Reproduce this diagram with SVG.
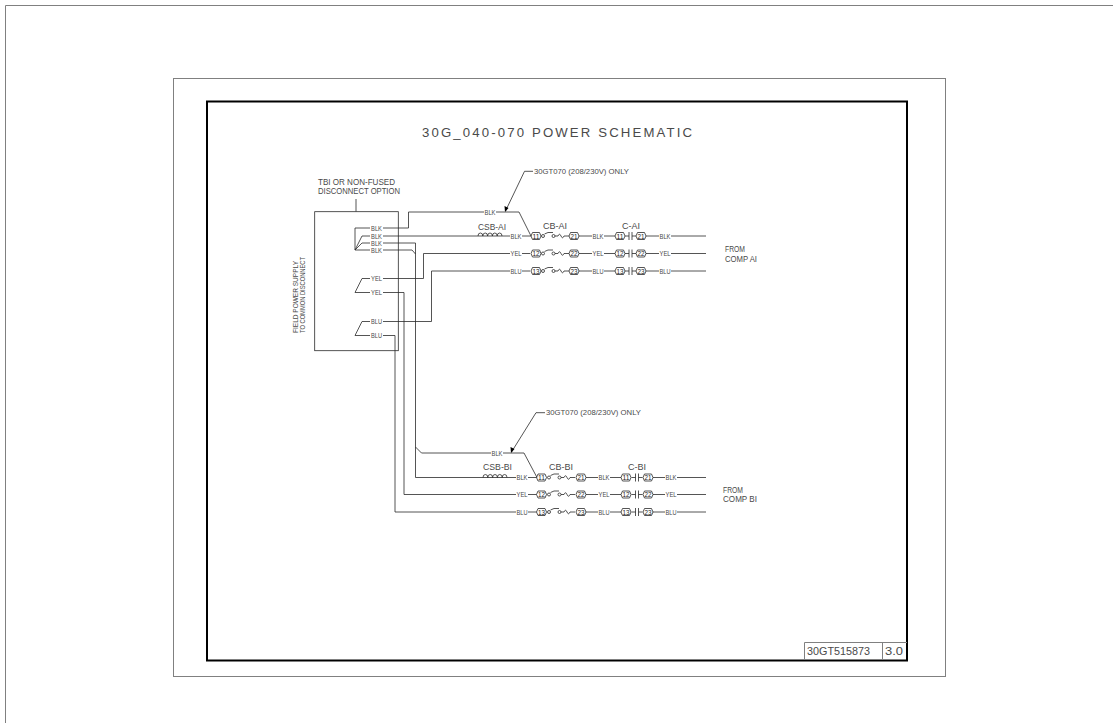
<svg xmlns="http://www.w3.org/2000/svg" width="1113" height="723" viewBox="0 0 1113 723">
<style>
text{font-family:"Liberation Sans",Arial,sans-serif;fill:#4a4a4a}
.w{fill:none;stroke:#2a2a2a;stroke-width:.8}
.f{fill:none;stroke:#808080;stroke-width:1}
.t{font-size:7px;text-anchor:middle}
.n{font-size:6.500px;text-anchor:middle;fill:#222}
.s{font-size:9.500px}
.m{font-size:7px}
</style>
<defs>
<path id="hex" class="w" d="M-5,0l1.500-3.500h7l1.500,3.500l-1.500,3.500h-7z"/>
<g id="cb"><circle cx="0" cy="0" r="1.500" class="w"/><path class="w" d="M1.500,-2 L5,-3.500 H10"/><circle cx="10.500" cy="0" r="1.500" class="w"/><path class="w" d="M12,0 H15 q1.500,-3.500 3,0 t3,0 H26"/></g>
<path id="con" class="w" d="M-5,0H-1M-1,-4V4M2,-4V4M2,0H6"/>
<path id="coil" class="w" d="M0,0a2.400,3 0 0 1 4.800,0a2.400,3 0 0 1 4.800,0a2.400,3 0 0 1 4.800,0a2.400,3 0 0 1 4.800,0a2.400,3 0 0 1 4.800,0"/>
</defs>
<rect width="1113" height="723" fill="#fff"/>
<g id="frame">
<path class="f" d="M1113,5.500H5.500V723"/>
<rect class="f" x="173.500" y="78.500" width="772" height="598"/>
<rect x="207" y="101.500" width="700" height="559" fill="none" stroke="#000" stroke-width="2"/>
<path class="f" d="M804.500,660V642.500H907M882.500,642.500V660"/>
<text x="807" y="655" textLength="63" lengthAdjust="spacingAndGlyphs" style="font-size:11px">30GT515873</text>
<text x="885" y="655" textLength="18" lengthAdjust="spacingAndGlyphs" style="font-size:11px">3.0</text>
<text x="422" y="137" textLength="270" style="font-size:13.200px">30G_040-070 POWER SCHEMATIC</text>
</g>
<g id="connectors">
<path class="w" d="M370,228H355V250H370M355,250L362,236H370M355,250L362,243H370"/>
<path class="w" d="M370,278.500H362L355,292.500H370M370,321.500H362L355,335.500H370"/>
<path class="w" d="M383,228H408.500V212H484M496,212H519L531,236"/>
<path class="w" d="M383,236H510M522,236H531"/>
<path class="w" d="M383,243H415.500V477.500H516M528,477.500H536.500"/>
<path class="w" d="M383,250H412L415.500,254"/>
<path class="w" d="M415.500,447L421.500,453H491M503,453H524L537,477.500"/>
<path class="w" d="M383,278.500H423.500V253.500H510M522,253.500H530"/>
<path class="w" d="M383,321.500H431.500V271H510M522,271H530"/>
<path class="w" d="M383,292.500H404V494.500H516M528,494.500H536.500"/>
<path class="w" d="M383,335.500H395V512H516M528,512H536.500"/>
<path class="w" d="M533,171.300H524.500L505.500,211"/>
<path d="M505,212L504.500,206L508.500,208Z" fill="#000"/>
<path class="w" d="M545,412.700H536L511.500,452"/>
<path d="M511,453L510.500,447L514.500,449Z" fill="#000"/>
<path class="w" d="M356,211.500V199"/>
</g>
<g id="box-tb1">
<rect class="w" x="314.700" y="211.700" width="83.600" height="139"/>
<g class="t">
<text x="376.500" y="230.700" textLength="11" lengthAdjust="spacingAndGlyphs">BLK</text><text x="376.500" y="238.500" textLength="11" lengthAdjust="spacingAndGlyphs">BLK</text><text x="376.500" y="245.500" textLength="11" lengthAdjust="spacingAndGlyphs">BLK</text><text x="376.500" y="252.700" textLength="11" lengthAdjust="spacingAndGlyphs">BLK</text>
<text x="376.500" y="281" textLength="11" lengthAdjust="spacingAndGlyphs">YEL</text><text x="376.500" y="295.200" textLength="11" lengthAdjust="spacingAndGlyphs">YEL</text><text x="376.500" y="324.200" textLength="11" lengthAdjust="spacingAndGlyphs">BLU</text><text x="376.500" y="338.200" textLength="11" lengthAdjust="spacingAndGlyphs">BLU</text>
</g>
<text x="318" y="185" class="s" textLength="77" lengthAdjust="spacingAndGlyphs">TBI OR NON-FUSED</text>
<text x="318" y="194" class="s" textLength="82" lengthAdjust="spacingAndGlyphs">DISCONNECT OPTION</text>
<text transform="translate(298,333) rotate(-90)" textLength="72" lengthAdjust="spacingAndGlyphs" style="font-size:8px">FIELD POWER SUPPLY</text>
<text transform="translate(305,333) rotate(-90)" textLength="76" lengthAdjust="spacingAndGlyphs" style="font-size:8px">TO COMMON DISCONNECT</text>
</g>
<g id="note-a"><text x="534" y="174" class="m" textLength="95" lengthAdjust="spacingAndGlyphs">30GT070 (208/230V) ONLY</text></g>
<g id="note-b"><text x="546" y="415" class="m" textLength="95" lengthAdjust="spacingAndGlyphs">30GT070 (208/230V) ONLY</text></g>
<g id="wires-labels" class="t">
<text x="490" y="214.500" textLength="11" lengthAdjust="spacingAndGlyphs">BLK</text><text x="516" y="238.500" textLength="11" lengthAdjust="spacingAndGlyphs">BLK</text><text x="516" y="256" textLength="11" lengthAdjust="spacingAndGlyphs">YEL</text><text x="516" y="273.500" textLength="11" lengthAdjust="spacingAndGlyphs">BLU</text>
<text x="497" y="455.500" textLength="11" lengthAdjust="spacingAndGlyphs">BLK</text><text x="522" y="480" textLength="11" lengthAdjust="spacingAndGlyphs">BLK</text><text x="522" y="497" textLength="11" lengthAdjust="spacingAndGlyphs">YEL</text><text x="522" y="514.500" textLength="11" lengthAdjust="spacingAndGlyphs">BLU</text>
</g>
<g id="csb-a1"><use href="#coil" x="478" y="236"/><text x="478" y="229.500" class="s" textLength="28" lengthAdjust="spacingAndGlyphs">CSB-AI</text></g>
<g id="csb-b1"><use href="#coil" x="483" y="477.500"/><text x="483" y="470" class="s" textLength="29" lengthAdjust="spacingAndGlyphs">CSB-BI</text></g>
<g id="cb-a1">
<text x="543" y="228.500" class="s" textLength="24" lengthAdjust="spacingAndGlyphs">CB-AI</text>
<use href="#hex" x="536" y="236"/><text x="536" y="238.500" class="n" textLength="7" lengthAdjust="spacingAndGlyphs">11</text><use href="#cb" x="543" y="236"/><use href="#hex" x="574" y="236"/><text x="574" y="238.500" class="n" textLength="7" lengthAdjust="spacingAndGlyphs">21</text>
<use href="#hex" x="536" y="253.500"/><text x="536" y="256" class="n" textLength="7" lengthAdjust="spacingAndGlyphs">12</text><use href="#cb" x="543" y="253.500"/><use href="#hex" x="574" y="253.500"/><text x="574" y="256" class="n" textLength="7" lengthAdjust="spacingAndGlyphs">22</text>
<use href="#hex" x="536" y="271"/><text x="536" y="273.500" class="n" textLength="7" lengthAdjust="spacingAndGlyphs">13</text><use href="#cb" x="543" y="271"/><use href="#hex" x="574" y="271"/><text x="574" y="273.500" class="n" textLength="7" lengthAdjust="spacingAndGlyphs">23</text>
</g>
<g id="c-a1">
<text x="622" y="228.500" class="s" textLength="18" lengthAdjust="spacingAndGlyphs">C-AI</text>
<path class="w" d="M579,236H592M604,236H615M646,236H659M671,236H706M579,253.500H592M604,253.500H615M646,253.500H659M671,253.500H706M579,271H592M604,271H615M646,271H659M671,271H706"/>
<g class="t"><text x="598" y="238.500" textLength="11" lengthAdjust="spacingAndGlyphs">BLK</text><text x="598" y="256" textLength="11" lengthAdjust="spacingAndGlyphs">YEL</text><text x="598" y="273.500" textLength="11" lengthAdjust="spacingAndGlyphs">BLU</text><text x="665" y="238.500" textLength="11" lengthAdjust="spacingAndGlyphs">BLK</text><text x="665" y="256" textLength="11" lengthAdjust="spacingAndGlyphs">YEL</text><text x="665" y="273.500" textLength="11" lengthAdjust="spacingAndGlyphs">BLU</text></g>
<use href="#hex" x="620" y="236"/><text x="620" y="238.500" class="n" textLength="7" lengthAdjust="spacingAndGlyphs">11</text><use href="#con" x="630" y="236"/><use href="#hex" x="641" y="236"/><text x="641" y="238.500" class="n" textLength="7" lengthAdjust="spacingAndGlyphs">21</text>
<use href="#hex" x="620" y="253.500"/><text x="620" y="256" class="n" textLength="7" lengthAdjust="spacingAndGlyphs">12</text><use href="#con" x="630" y="253.500"/><use href="#hex" x="641" y="253.500"/><text x="641" y="256" class="n" textLength="7" lengthAdjust="spacingAndGlyphs">22</text>
<use href="#hex" x="620" y="271"/><text x="620" y="273.500" class="n" textLength="7" lengthAdjust="spacingAndGlyphs">13</text><use href="#con" x="630" y="271"/><use href="#hex" x="641" y="271"/><text x="641" y="273.500" class="n" textLength="7" lengthAdjust="spacingAndGlyphs">23</text>
<text x="725" y="251.700" class="s" textLength="20" lengthAdjust="spacingAndGlyphs">FROM</text><text x="725" y="261.700" class="s" textLength="32" lengthAdjust="spacingAndGlyphs">COMP AI</text>
</g>
<g id="cb-b1">
<text x="549" y="469.500" class="s" textLength="24" lengthAdjust="spacingAndGlyphs">CB-BI</text>
<use href="#hex" x="541.500" y="477.500"/><text x="541.500" y="480" class="n" textLength="7" lengthAdjust="spacingAndGlyphs">11</text><use href="#cb" x="549" y="477.500"/><use href="#hex" x="581" y="477.500"/><text x="581" y="480" class="n" textLength="7" lengthAdjust="spacingAndGlyphs">21</text>
<use href="#hex" x="541.500" y="494.500"/><text x="541.500" y="497" class="n" textLength="7" lengthAdjust="spacingAndGlyphs">12</text><use href="#cb" x="549" y="494.500"/><use href="#hex" x="581" y="494.500"/><text x="581" y="497" class="n" textLength="7" lengthAdjust="spacingAndGlyphs">22</text>
<use href="#hex" x="541.500" y="512"/><text x="541.500" y="514.500" class="n" textLength="7" lengthAdjust="spacingAndGlyphs">13</text><use href="#cb" x="549" y="512"/><use href="#hex" x="581" y="512"/><text x="581" y="514.500" class="n" textLength="7" lengthAdjust="spacingAndGlyphs">23</text>
</g>
<g id="c-b1">
<text x="628" y="469.500" class="s" textLength="18" lengthAdjust="spacingAndGlyphs">C-BI</text>
<path class="w" d="M586,477.500H598M610,477.500H621M653,477.500H665M677,477.500H706M586,494.500H598M610,494.500H621M653,494.500H665M677,494.500H706M586,512H598M610,512H621M653,512H665M677,512H706"/>
<g class="t"><text x="604" y="480" textLength="11" lengthAdjust="spacingAndGlyphs">BLK</text><text x="604" y="497" textLength="11" lengthAdjust="spacingAndGlyphs">YEL</text><text x="604" y="514.500" textLength="11" lengthAdjust="spacingAndGlyphs">BLU</text><text x="671" y="480" textLength="11" lengthAdjust="spacingAndGlyphs">BLK</text><text x="671" y="497" textLength="11" lengthAdjust="spacingAndGlyphs">YEL</text><text x="671" y="514.500" textLength="11" lengthAdjust="spacingAndGlyphs">BLU</text></g>
<use href="#hex" x="626" y="477.500"/><text x="626" y="480" class="n" textLength="7" lengthAdjust="spacingAndGlyphs">11</text><use href="#con" x="636.500" y="477.500"/><use href="#hex" x="648" y="477.500"/><text x="648" y="480" class="n" textLength="7" lengthAdjust="spacingAndGlyphs">21</text>
<use href="#hex" x="626" y="494.500"/><text x="626" y="497" class="n" textLength="7" lengthAdjust="spacingAndGlyphs">12</text><use href="#con" x="636.500" y="494.500"/><use href="#hex" x="648" y="494.500"/><text x="648" y="497" class="n" textLength="7" lengthAdjust="spacingAndGlyphs">22</text>
<use href="#hex" x="626" y="512"/><text x="626" y="514.500" class="n" textLength="7" lengthAdjust="spacingAndGlyphs">13</text><use href="#con" x="636.500" y="512"/><use href="#hex" x="648" y="512"/><text x="648" y="514.500" class="n" textLength="7" lengthAdjust="spacingAndGlyphs">23</text>
<text x="723" y="492.700" class="s" textLength="20" lengthAdjust="spacingAndGlyphs">FROM</text><text x="723" y="502.300" class="s" textLength="34" lengthAdjust="spacingAndGlyphs">COMP BI</text>
</g>
</svg>
